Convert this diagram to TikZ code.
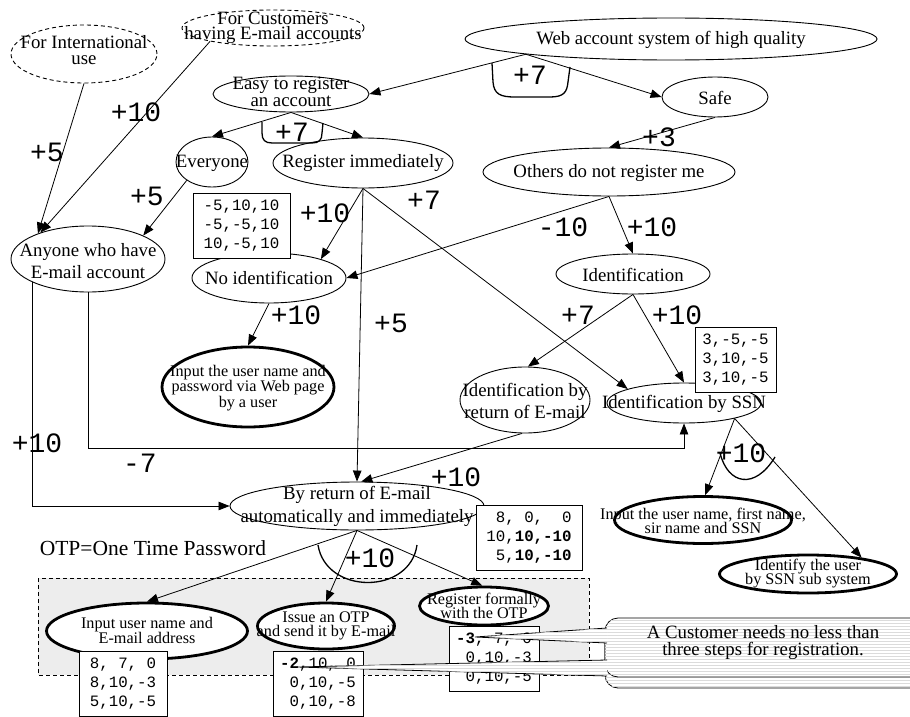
\documentclass[tikz,border=0pt]{standalone}
\usepackage{fontspec}
\setmainfont{Liberation Serif}
\newfontfamily\monof{Liberation Mono}
\usetikzlibrary{arrows.meta,patterns,shapes.geometric}
\setlength{\lineskiplimit}{-50pt}

\tikzset{
 arr/.style={-{Triangle[length=11pt,width=8.5pt]}, line width=0.8pt},
 ln/.style={line width=0.8pt},
 ell/.style={ellipse, draw, line width=0.9pt, fill=white, inner sep=0pt},
 ellk/.style={ellipse, draw, line width=2.8pt, fill=white, inner sep=0pt},
 elld/.style={ellipse, draw, line width=0.9pt, dash pattern=on 4pt off 3pt, fill=white, inner sep=0pt},
 tx/.style={align=center, inner sep=0pt, font=\fontsize{18.8}{#1}\selectfont},
 tx/.default=22,
 txk/.style={align=center, inner sep=0pt, font=\fontsize{16.2}{#1}\selectfont},
 txk/.default=14.5,
 lab/.style={inner sep=0pt, font=\monof\fontsize{28}{28}\selectfont},
 numbox/.style={draw, line width=0.8pt, fill=white, inner sep=0pt, align=center,
   font=\monof\fontsize{15.8}{19}\selectfont},
 andarc/.style={line width=1.3pt},
 stripes/.style={fill=white, postaction={pattern=horizontal lines, pattern color=black!14}},
}

\begin{document}
\begin{tikzpicture}[x=1pt,y=-1pt]
\useasboundingbox (0,0) rectangle (910,717);

% gray region
\draw[line width=0.8pt, dash pattern=on 4pt off 3pt, fill=black!7] (38,578) rectangle (589,675);

% ellipses
\node[elld, minimum width=146pt, minimum height=58pt] (forint) at (84,54) {};
\node[elld, minimum width=182pt, minimum height=36pt] (cust) at (273,28) {};
\node[ell, minimum width=412pt, minimum height=42pt] (web) at (671,39) {};
\node[ell, minimum width=156pt, minimum height=36pt] (easy) at (291,94) {};
\node[ell, minimum width=106pt, minimum height=40pt] (safe) at (715,97) {};
\node[ell, minimum width=72pt, minimum height=50pt] (everyone) at (212,162) {};
\node[ell, minimum width=180pt, minimum height=50pt] (register) at (363,163) {};
\node[ell, minimum width=252pt, minimum height=48pt] (others) at (609,172) {};
\node[ell, minimum width=154pt, minimum height=66pt] (anyone) at (88,259) {};
\node[ell, minimum width=154pt, minimum height=50pt] (noid) at (269,278) {};
\node[ell, minimum width=154pt, minimum height=40pt] (ident) at (633,274) {};
\node[ellk, minimum width=172pt, minimum height=80pt] (inputpw) at (248,387) {};
\node[ell, minimum width=130pt, minimum height=66pt] (idret) at (525,400) {};
\node[ell, minimum width=154pt, minimum height=40pt] (ssn) at (684,403) {};
\node[ell, minimum width=254pt, minimum height=48pt] (byret) at (357,506) {};
\node[ellk, minimum width=201pt, minimum height=56pt] (inputmail) at (147,631) {};
\node[ellk, minimum width=137pt, minimum height=46pt] (issue) at (326,626) {};
\node[ellk, minimum width=129pt, minimum height=38pt] (regform) at (484,606) {};
\node[ellk, minimum width=177pt, minimum height=47pt] (inputssn) at (703,520) {};
\node[ellk, minimum width=177pt, minimum height=38pt] (identify) at (808,574) {};

% edges
\draw[arr] (web.186) -- (easy.east);
\draw[arr] (web.186) -- (safe.west);
\draw[arr] (easy.south) -- (everyone.north);
\draw[arr] (easy.south) -- (register.north);
\draw[arr] (safe.south) -- (others.north);
\draw[arr] (others.south) -- (noid.east);
\draw[arr] (others.south) -- (ident.north);
\draw[arr] (forint.south) -- (anyone.153);
\draw[arr] (cust.192) -- (anyone.151);
\draw[arr] (everyone.216) -- (anyone.23);
\draw[arr] (register.south) -- (noid.20);
\draw[arr] (register.south) -- (byret.north);
\draw[arr] (register.south) -- (ssn.166);
\draw[arr] (noid.south) -- (inputpw.north);
\draw[arr] (ident.south) -- (idret.85);
\draw[arr] (ident.south) -- (ssn.north);
\draw[arr] (anyone.203) |- (byret.west);
\draw[arr] (anyone.south) -- ++(0,156) -| (ssn.south);
\draw[arr] (idret.265) -- (byret.80);
\draw[arr] (byret.south) -- (inputmail.north);
\draw[arr] (byret.south) -- (issue.north);
\draw[arr] (byret.south) -- (regform.95);
\draw[arr] (ssn.-17) -- (inputssn.85);
\draw[arr] (ssn.-17) -- (identify.17);

% AND arcs
\draw[andarc] (492,63) -- (493,82) .. controls (494,94) and (500,97) .. (515,97)
  -- (550,97) .. controls (564,97) and (567,92) .. (568,82) -- (570,67);
\draw[andarc] (262,122) -- (262,133) .. controls (262,140) and (265,143) .. (272,143)
  -- (312,143) .. controls (319,143) and (322,140) .. (322,133) -- (323,123);
\draw[andarc] (318,545) .. controls (326,595) and (410,595) .. (417,545);
\draw[andarc] (720,453) .. controls (728,485) and (755,490) .. (775,457);

% texts in ellipses
\node[tx=16] (forintt) at (84,50) {For International\\use};
\node[tx=15.5] (custt) at (273,28) {For Customers\\having E-mail accounts};
\node[tx] (webt) at (671,40) {Web account system of high quality};
\node[tx=17] (easyt) at (291,92) {Easy to register\\an account};
\node[tx] (safet) at (715,98) {Safe};
\node[tx] (everyonet) at (212,163) {Everyone};
\node[tx] (registert) at (363,163) {Register immediately};
\node[tx] (otherst) at (609,173) {Others do not register me};
\node[tx=22] (anyonet) at (88,261) {Anyone who have\\E-mail account};
\node[tx] (noidt) at (269,278) {No identification};
\node[tx] (identt) at (633,275) {Identification};
\node[txk=15.5] (inputpwt) at (248,388) {Input the user name and\\password via Web page\\by a user};
\node[tx=22] (idrett) at (525,401) {Identification by\\return of E-mail};
\node[tx] (ssnt) at (684,404) {Identification by SSN};
\node[tx=23] (byrett) at (357,506) {By return of E-mail\\automatically and immediately};
\node[txk=15] (inputmailt) at (147,630) {Input user name and\\E-mail address};
\node[txk=14] (issuet) at (326,626) {Issue an OTP\\and send it by E-mail};
\node[txk=14] (regformt) at (484,606) {Register formally\\with the OTP};
\node[txk=14] (inputssnt) at (703,521) {Input the user name, first name,\\sir name and SSN};
\node[txk=14] (identifyt) at (808,574) {Identify the user\\by SSN sub system};

\node[inner sep=0pt, font=\fontsize{21.5}{24}\selectfont] (otp) at (153,548) {OTP=One Time Password};

% labels
\node[lab] (l1) at (47,152) {+5};
\node[lab] (l2) at (136,112) {+10};
\node[lab] (l3) at (530,75) {+7};
\node[lab] (l4) at (292,132) {+7};
\node[lab] (l5) at (659,137) {+3};
\node[lab] (l6) at (147,196) {+5};
\node[lab] (l7) at (325,213) {+10};
\node[lab] (l8) at (424,200) {+7};
\node[lab] (l9) at (296,315) {+10};
\node[lab] (l10) at (391,323) {+5};
\node[lab] (l11) at (563,227) {-10};
\node[lab] (l12) at (652,227) {+10};
\node[lab] (l13) at (578,315) {+7};
\node[lab] (l14) at (677,315) {+10};
\node[lab] (l15) at (37,443) {+10};
\node[lab] (l16) at (140,463) {-7};
\node[lab] (l17) at (456,477) {+10};
\node[lab] (l18) at (370,558) {+10};
\node[lab] (l19) at (741,453) {+10};

% number boxes
\node[numbox, minimum width=97pt, minimum height=65pt] (b1) at (241.5,225.5) {-5,10,10\\-5,-5,10\\10,-5,10};
\node[numbox, minimum width=81pt, minimum height=65pt] (b2) at (735.5,359.5) {3,-5,-5\\3,10,-5\\3,10,-5};
\node[numbox, minimum width=106pt, minimum height=65pt] (b3) at (529,537.5) {~8,~0,~~0\\10,\textbf{10,-10}\\~5,\textbf{10,-10}};
\node[numbox, minimum width=88pt, minimum height=65pt] (b4) at (123,683.5) {8,~7,~0\\8,10,-3\\5,10,-5};
\node[numbox, minimum width=90pt, minimum height=65pt] (b5) at (318,683.5) {\textbf{-2},10,~0\\~0,10,-5\\~0,10,-8};
\node[numbox, minimum width=90pt, minimum height=65pt] (b6) at (494,658.5) {\textbf{-3},~7,~0\\~0,10,-3\\~0,10,-5};

% callout
\draw[ln, rounded corners=13pt, stripes] (605,628) rectangle (940,688);
\draw[ln, rounded corners=13pt, stripes] (605,618) rectangle (940,677);
\coordinate (pa) at (475,637);
\coordinate (pb) at (297,667);
\draw[ln, stripes] (607,628) -- (pa) -- (607,643);
\draw[ln, stripes] (607,660) -- (pb) -- (607,676);
\node[tx=17] (callt) at (763,642) {A Customer needs no less than\\three steps for registration.};
\end{tikzpicture}
\end{document}
